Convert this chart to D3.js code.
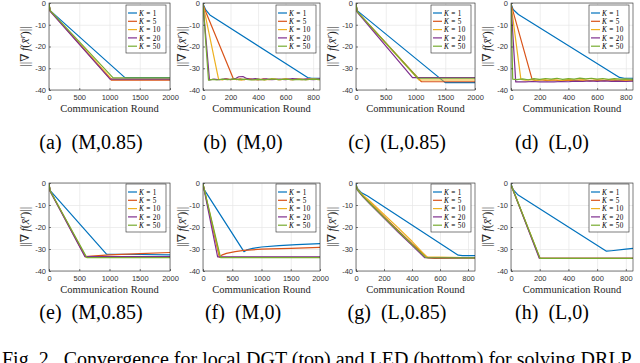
<!DOCTYPE html>
<html>
<head>
<meta charset="utf-8">
<script src="https://cdn.jsdelivr.net/npm/d3@7"></script>
<style>
  body { margin: 0; background: #fff; }
  svg { display: block; }
</style>
</head>
<body>
<svg id="fig" width="640" height="363"></svg>
<script>
// legend entries and sub-figure captions
const kValues = [1, 5, 10, 20, 50];
const captions = ["(a)", "(b)", "(c)", "(d)", "(e)", "(f)", "(g)", "(h)"];
const settings = ["(M,0.85)", "(M,0)", "(L,0.85)", "(L,0)", "(M,0.85)", "(M,0)", "(L,0.85)", "(L,0)"];
const xMaxes = [2000, 850, 2000, 850, 2000, 2000, 850, 850];
const xTicksLong = [0, 500, 1000, 1500, 2000];
const xTicksShort = [0, 200, 400, 600, 800];
const yTicks = [0, -10, -20, -30, -40];
const figCaption = "Fig. 2.\u00a0 Convergence for local DGT (top) and LED (bottom) for solving DRLP";

// each panel: one [x, y] list per K, in the order of kValues
const panelA = [
  [[0, -0.5], [20, -3.5], [1255, -34.3], [2000, -34.3]],
  [[0, -0.5], [20, -3.6], [1030, -35.5], [2000, -35.5]],
  [[0, -0.5], [20, -3.6], [1040, -35.1], [2000, -35.1]],
  [[0, -0.5], [20, -3.8], [1010, -35.0], [2000, -35.0]],
  [[0, -0.5], [20, -3.5], [1060, -34.4], [2000, -34.4]]
];
const panelB = [
  [[0, -0.3], [20, -3.2], [50, -5.5], [760, -34.3], [790, -34.6], [850, -34.6]],
  [[0, -0.5], [10, -2.5], [219, -34.6], [240, -35.2], [270, -34.9], [300, -35.3], [330, -34.8], [360, -35.1],
   [400, -35.4], [440, -34.9], [480, -35.2], [520, -35.0], [560, -35.3], [600, -34.9], [640, -35.2],
   [680, -35.0], [720, -35.3], [760, -34.9], [800, -35.1], [850, -35.0]],
  [[0, -0.5], [8, -3.0], [113, -35.0], [140, -35.4], [170, -34.8], [200, -35.2], [240, -35.0], [280, -35.5],
   [320, -34.9], [360, -35.2], [400, -35.0], [450, -35.4], [500, -34.9], [550, -35.2], [600, -35.0],
   [650, -35.3], [700, -34.9], [750, -35.2], [800, -35.0], [850, -35.2]],
  [[0, -0.5], [47, -35.4], [80, -35.0], [120, -35.3], [160, -34.9], [200, -35.2], [240, -34.6], [260, -33.9],
   [290, -33.8], [310, -34.5], [340, -35.1], [380, -34.8], [420, -35.2], [460, -34.9], [500, -35.3],
   [550, -35.0], [600, -35.2], [650, -34.8], [700, -35.1], [750, -35.0], [800, -35.3], [850, -35.0]],
  [[0, -0.5], [40, -35.5], [70, -35.1], [100, -35.4], [140, -35.0], [180, -35.3], [220, -34.9], [260, -35.2],
   [300, -35.0], [350, -35.4], [400, -35.1], [450, -35.3], [500, -34.9], [550, -35.2], [600, -35.0],
   [650, -35.3], [700, -35.1], [750, -35.3], [800, -35.0], [850, -35.2]]
];
const panelC = [
  [[0, -0.5], [20, -3.5], [1500, -36.6], [2000, -36.6]],
  [[0, -0.5], [20, -4.0], [1100, -36.2], [2000, -36.2]],
  [[0, -0.5], [20, -4.0], [1060, -35.4], [2000, -35.4]],
  [[0, -0.5], [20, -4.2], [950, -34.3], [2000, -34.3]],
  [[0, -0.5], [20, -4.0], [1040, -34.6], [2000, -34.6]]
];
const panelD = [
  [[0, -0.3], [15, -3.0], [52, -5.3], [756, -34.2], [790, -34.6], [850, -34.6]],
  [[0, -0.5], [147, -35.1], [170, -35.6], [210, -35.3], [250, -35.7], [300, -35.4], [350, -35.8], [400, -35.5],
   [450, -35.7], [500, -35.4], [550, -35.8], [600, -35.5], [650, -35.7], [700, -35.4], [750, -35.8],
   [800, -35.5], [850, -35.7]],
  [[0, -0.5], [69, -35.1], [100, -35.5], [140, -35.3], [180, -35.6], [220, -35.2], [260, -35.5], [300, -35.3],
   [350, -35.6], [400, -35.2], [450, -35.5], [500, -35.3], [550, -35.6], [600, -35.3], [650, -35.5],
   [700, -35.2], [750, -35.5], [800, -35.3], [850, -35.5]],
  [[0, -0.5], [33, -36.3], [60, -36.2], [100, -36.3], [150, -36.1], [200, -36.3], [250, -36.2], [300, -36.3],
   [350, -36.1], [400, -36.2], [450, -35.9], [500, -36.1], [550, -35.8], [600, -36.0], [650, -35.8],
   [700, -36.0], [750, -35.9], [800, -36.1], [850, -35.9]],
  [[0, -0.5], [12, -35.0], [40, -35.2], [80, -34.9], [120, -35.3], [160, -34.8], [200, -35.1], [240, -34.7],
   [280, -35.0], [320, -34.6], [360, -35.1], [400, -34.8], [440, -35.0], [480, -34.5], [520, -34.9],
   [560, -34.6], [600, -35.0], [640, -34.7], [680, -35.1], [720, -34.8], [760, -35.0], [800, -34.9], [850, -35.1]]
];
const panelE = [
  [[0, -0.5], [20, -3.5], [950, -32.3], [1500, -32.5], [2000, -32.7]],
  [[0, -0.5], [20, -3.6], [600, -33.5], [700, -33.2], [1000, -32.7], [1500, -32.1], [2000, -31.6]],
  [[0, -0.5], [20, -3.7], [615, -33.8], [2000, -33.8]],
  [[0, -0.5], [20, -3.8], [595, -33.5], [2000, -33.5]],
  [[0, -0.5], [20, -3.6], [625, -33.9], [2000, -33.9]]
];
const panelF = [
  [[0, -0.3], [20, -3.0], [700, -31.2], [750, -30.4], [850, -29.7], [1000, -29.1], [1300, -28.5], [1600, -28.0], [2000, -27.6]],
  [[0, -0.5], [280, -33.8], [320, -32.8], [400, -32.0], [550, -31.2], [700, -30.6], [1000, -30.1], [1500, -29.7], [2000, -29.3]],
  [[0, -0.5], [290, -33.8], [2000, -33.8]],
  [[0, -0.5], [250, -33.6], [2000, -33.6]],
  [[0, -0.5], [300, -33.9], [2000, -33.9]]
];
const panelG = [
  [[0, -0.5], [10, -2.5], [40, -4.5], [80, -5.8], [730, -32.8], [760, -33.0], [850, -33.0]],
  [[0, -1], [10, -3.0], [50, -6.0], [100, -9.0], [200, -15.3], [300, -21.5], [400, -27.6], [515, -34.1], [560, -34.3], [850, -34.0]],
  [[0, -1], [10, -2.8], [50, -5.5], [100, -8.3], [200, -14.3], [300, -20.3], [400, -26.5], [505, -33.6], [850, -34.0]],
  [[0, -1], [10, -3.2], [50, -6.3], [100, -9.6], [200, -16.0], [300, -22.3], [400, -28.3], [490, -33.9], [850, -34.0]],
  [[0, -1], [10, -3.1], [50, -6.1], [100, -9.3], [200, -15.6], [300, -21.8], [400, -27.9], [500, -33.9], [850, -34.0]]
];
const panelH = [
  [[0, -0.3], [15, -3.0], [50, -5.5], [665, -31.0], [700, -30.8], [800, -30.1], [850, -29.7]],
  [[0, -0.8], [200, -34.2], [850, -34.2]],
  [[0, -0.8], [202, -34.2], [850, -34.2]],
  [[0, -0.8], [197, -34.2], [850, -34.2]],
  [[0, -0.8], [203, -34.3], [850, -34.3]]
];
const panels = [panelA, panelB, panelC, panelD, panelE, panelF, panelG, panelH];

// layout (MATLAB default colour order)
const colors = ["#0072BD", "#D95319", "#EDB120", "#7E2F8E", "#77AC30"];
const lefts = [49, 203, 356, 511];
const widths = [121, 117, 119, 122];
const tops = [3, 183];
const heights = [87, 88];
const yLabelOffset = [-20, -17, -20, -20];
const capX = [91, 243, 397, 552];
const capY = [149, 319];

const svg = d3.select("#fig");
const serif = "'Liberation Serif', 'DejaVu Serif', serif";
const sans = "'Liberation Sans', Arial, sans-serif";

function drawPanel(idx) {
  const col = idx % 4, row = Math.floor(idx / 4);
  const W = widths[col], H = heights[row];
  const g = svg.append("g").attr("transform", `translate(${lefts[col]},${tops[row]})`);

  const x = d3.scaleLinear().domain([0, xMaxes[idx]]).range([0, W]);
  const y = d3.scaleLinear().domain([-40, 0]).range([H, 0]);
  const xt = xMaxes[idx] === 2000 ? xTicksLong : xTicksShort;

  g.append("rect").attr("width", W).attr("height", H).attr("fill", "#fff");

  // grid
  g.append("g")
    .attr("transform", `translate(0,${H})`)
    .call(d3.axisBottom(x).tickValues(xt).tickSize(-H).tickFormat(""))
    .call(a => a.select(".domain").remove())
    .selectAll("line").attr("stroke", "#e6e6e6").attr("stroke-width", 0.7);
  g.append("g")
    .call(d3.axisLeft(y).tickValues(yTicks).tickSize(-W).tickFormat(""))
    .call(a => a.select(".domain").remove())
    .selectAll("line").attr("stroke", "#e6e6e6").attr("stroke-width", 0.7);

  // curves
  const clipId = "clip" + idx;
  g.append("clipPath").attr("id", clipId)
    .append("rect").attr("width", W).attr("height", H);
  const line = d3.line().x(d => x(d[0])).y(d => y(d[1]));
  g.append("g").attr("clip-path", `url(#${clipId})`)
    .selectAll("path")
    .data(panels[idx])
    .join("path")
    .attr("d", line)
    .attr("fill", "none")
    .attr("stroke", (d, i) => colors[i])
    .attr("stroke-width", 1.2)
    .attr("stroke-linejoin", "round");

  // box
  g.append("rect").attr("width", W).attr("height", H)
    .attr("fill", "none").attr("stroke", "#262626").attr("stroke-width", 0.6);

  // ticks + labels
  const xa = g.append("g")
    .attr("transform", `translate(0,${H})`)
    .call(d3.axisBottom(x).tickValues(xt).tickSize(-2).tickPadding(5).tickFormat(d3.format("d")));
  const ya = g.append("g")
    .call(d3.axisLeft(y).tickValues(yTicks).tickSize(-2).tickPadding(3).tickFormat(d => d === 0 ? "0" : "-" + Math.abs(d)));
  [xa, ya].forEach(a => {
    a.select(".domain").remove();
    a.selectAll("line").attr("stroke", "#262626").attr("stroke-width", 0.6);
    a.selectAll("text").attr("fill", "#333").style("font-family", sans).style("font-size", "7.5px");
  });

  // axis titles
  g.append("text")
    .attr("x", W / 2).attr("y", H + 21.5)
    .attr("text-anchor", "middle")
    .style("font-family", serif).style("font-size", "10.5px").attr("fill", "#262626")
    .text("Communication Round");
  const yl = g.append("text")
    .attr("transform", `translate(${yLabelOffset[col]},${H / 2}) rotate(-90)`)
    .attr("text-anchor", "middle")
    .style("font-family", serif).style("font-size", "12px").attr("fill", "#262626");
  yl.append("tspan").text("||\u2207\u2009");
  yl.append("tspan").style("font-style", "italic").text("f");
  yl.append("tspan").text("(");
  yl.append("tspan").style("font-style", "italic").text("x\u0304");
  yl.append("tspan").attr("dy", -4).style("font-size", "8px").style("font-style", "italic").text("r");
  yl.append("tspan").attr("dy", 4).text(")||");

  // legend
  const lw = 40, lh = 48;
  const lg = g.append("g").attr("transform", `translate(${W - 4 - lw},${row === 0 ? 2 : 1})`);
  lg.append("rect").attr("width", lw).attr("height", lh)
    .attr("fill", "#fff").attr("stroke", "#262626").attr("stroke-width", 0.6);
  kValues.forEach((k, i) => {
    const yy = 8 + i * 8.3;
    lg.append("line").attr("x1", 2).attr("x2", 11).attr("y1", yy).attr("y2", yy)
      .attr("stroke", colors[i]).attr("stroke-width", 1.2);
    const t = lg.append("text").attr("x", 13).attr("y", yy + 2.6)
      .style("font-family", serif).style("font-size", "7.2px").style("letter-spacing", "0.35px")
      .attr("fill", "#000");
    t.append("tspan").style("font-style", "italic").text("K");
    t.append("tspan").text(" = " + k);
  });

  // caption
  svg.append("text")
    .attr("x", capX[col]).attr("y", capY[row])
    .attr("text-anchor", "middle")
    .style("font-family", serif).style("font-size", "20px").attr("fill", "#000")
    .text(captions[idx] + " \u00a0" + settings[idx]);
}

panels.forEach((p, i) => drawPanel(i));

svg.append("text")
  .attr("x", 2).attr("y", 366)
  .style("font-family", serif).style("font-size", "20px").attr("fill", "#000")
  .text(figCaption);
</script>
</body>
</html>
